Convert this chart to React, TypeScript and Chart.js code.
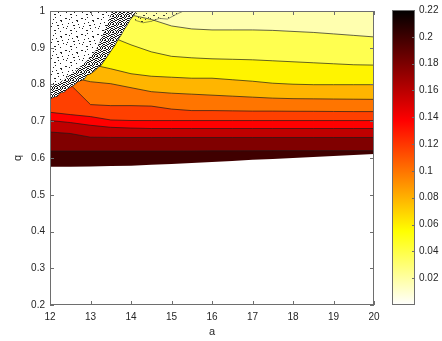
import React, { useEffect, useRef } from 'react';
import { Chart, registerables } from 'chart.js';

Chart.register(...registerables);

// ---- data ----
const aGrid = [12, 12.5, 13, 13.5, 14, 14.5, 15, 15.5, 16, 16.5, 17, 17.5, 18, 18.5, 19, 19.5, 20];

// lower boundary of the computed region (below it: no data)
const qEdge = [0.5759, 0.5759, 0.5772, 0.578, 0.5786, 0.5818, 0.584, 0.5867, 0.5894, 0.5921, 0.5949, 0.5976, 0.6003, 0.603, 0.6057, 0.6081, 0.6106];
// contour lines (q at each a of aGrid)
const q020 = [0.619, 0.619, 0.619, 0.619, 0.619, 0.619, 0.619, 0.6192, 0.6195, 0.6195, 0.6197, 0.62, 0.62, 0.62, 0.62, 0.62, 0.62];
const q018 = [0.6707, 0.6667, 0.6566, 0.656, 0.6558, 0.6558, 0.6558, 0.6558, 0.6558, 0.6558, 0.6558, 0.6558, 0.6558, 0.6558, 0.6558, 0.6558, 0.6558];
const q016 = [0.7019, 0.6965, 0.689, 0.6835, 0.6815, 0.6802, 0.6802, 0.6802, 0.6802, 0.6802, 0.6802, 0.6802, 0.6802, 0.6802, 0.6802, 0.6802, 0.6802];
const q014 = [0.7244, 0.7182, 0.7127, 0.7035, 0.702, 0.7019, 0.7019, 0.7019, 0.7019, 0.7019, 0.7019, 0.7019, 0.7019, 0.7019, 0.7019, 0.7019, 0.7019];
const q012 = [0.77, 0.8, 0.7453, 0.7425, 0.7425, 0.7412, 0.7331, 0.729, 0.729, 0.7283, 0.7276, 0.7276, 0.7272, 0.727, 0.7266, 0.7263, 0.7263];
const q010 = [0.78, 0.82, 0.8076, 0.8022, 0.7913, 0.7805, 0.7764, 0.7737, 0.771, 0.7683, 0.7656, 0.7629, 0.7615, 0.761, 0.7605, 0.76, 0.7596];
const q008 = [0.79, 0.83, 0.855, 0.8428, 0.8293, 0.8225, 0.8198, 0.8171, 0.8171, 0.813, 0.8089, 0.8035, 0.8008, 0.7995, 0.7995, 0.7995, 0.7995];
const q006 = [0.8, 0.84, 0.87, 0.93, 0.9079, 0.8889, 0.8767, 0.8726, 0.8699, 0.8686, 0.8672, 0.8645, 0.8618, 0.8591, 0.8564, 0.8537, 0.8528];
const q004 = [0.81, 0.85, 0.88, 0.95, 0.9892, 0.977, 0.9593, 0.9512, 0.9485, 0.9485, 0.9485, 0.9472, 0.9444, 0.9417, 0.9377, 0.9336, 0.9295];

// value whose colour fills the band above each line
const bandLevels = [0.2, 0.18, 0.16, 0.14, 0.12, 0.1, 0.08, 0.06, 0.04, 0.02];

// noisy (value < 0.02) region: lower-right edge
const noiseA = [12, 12.1, 12.17, 12.25, 12.35, 12.42, 12.49, 12.59, 12.67, 12.74, 12.84, 12.91, 12.99, 13.09, 13.19, 13.26, 13.36, 13.43, 13.53, 13.6, 13.68, 13.75, 13.83, 13.9, 13.98, 14.05, 14.12];
const noiseQ = [0.7615, 0.7669, 0.7683, 0.7778, 0.7805, 0.7886, 0.7927, 0.7995, 0.8076, 0.8103, 0.8157, 0.8266, 0.8293, 0.8374, 0.8482, 0.8537, 0.8699, 0.8808, 0.897, 0.9079, 0.9241, 0.935, 0.9512, 0.9621, 0.9783, 0.9864, 1.0];
// densely speckled strip along that edge: its upper edge
const denseA = [12, 12.3, 12.59, 12.89, 13.14, 13.28, 13.43, 13.53, 13.8, 14.12];
const denseQ = [0.794, 0.8103, 0.8347, 0.8618, 0.8943, 0.9295, 0.9675, 1.0, 1.0, 1.0];
// speckled strip along the top, right of the noisy region: its lower edge
const topSpeckA = [14.1, 14.3, 14.5, 14.7, 14.9, 15.1, 15.3];
const topSpeckQ = [0.975, 0.968, 0.972, 0.98, 0.978, 0.99, 1.0];

const xTicks = [12, 13, 14, 15, 16, 17, 18, 19, 20];
const yTicks = [0.2, 0.3, 0.4, 0.5, 0.6, 0.7, 0.8, 0.9, 1];
const cbTicks = [0.02, 0.04, 0.06, 0.08, 0.1, 0.12, 0.14, 0.16, 0.18, 0.2, 0.22];
const cbRange = [0, 0.22];

// ---- style helpers ----
const FONT = "'Liberation Sans', Arial, Helvetica, sans-serif";
const TEXT = '#262626';
const AXIS = '#6e6e6e';

function hotRev(v: number): string {
  const m = 64;
  let idx = Math.floor(((v - cbRange[0]) / (cbRange[1] - cbRange[0])) * m) + 1;
  idx = Math.max(1, Math.min(m, idx));
  const hi = m - idx + 1;
  const n = 24;
  const r = hi <= n ? hi / n : 1;
  const g = hi <= n ? 0 : hi <= 2 * n ? (hi - n) / n : 1;
  const b = hi <= 2 * n ? 0 : (hi - 2 * n) / (m - 2 * n);
  return `rgb(${Math.round(r * 255)},${Math.round(g * 255)},${Math.round(b * 255)})`;
}

function makePattern(ctx: CanvasRenderingContext2D, size: number, dots: number[][], bg: string | null, fg: string) {
  const c = document.createElement('canvas');
  c.width = size;
  c.height = size;
  const g = c.getContext('2d')!;
  if (bg) {
    g.fillStyle = bg;
    g.fillRect(0, 0, size, size);
  }
  g.fillStyle = fg;
  dots.forEach(([x, y]) => g.fillRect(x, y, 1, 1));
  return ctx.createPattern(c, 'repeat')!;
}

// speckle texture layouts (style only)
const SPARSE_DOTS = [
  [1, 2], [2, 2], [7, 1], [12, 4], [13, 4], [13, 5], [4, 7], [9, 9], [10, 9], [15, 11], [2, 12], [6, 14], [7, 14],
  [12, 15], [14, 8], [5, 3], [10, 12], [3, 10], [8, 6],
];
const DENSE_DOTS = [
  [0, 0], [1, 0], [4, 0], [6, 0], [2, 1], [3, 1], [5, 1], [0, 2], [1, 2], [4, 2], [7, 2], [2, 3], [5, 3], [6, 3],
  [0, 4], [3, 4], [4, 4], [7, 4], [1, 5], [2, 5], [6, 5], [0, 6], [3, 6], [5, 6], [7, 6], [1, 7], [4, 7], [6, 7],
];
const TOP_DOTS = [[1, 1], [2, 1], [6, 3], [3, 5], [4, 5], [8, 7], [0, 8], [5, 9]];

const pts = (xs: number[], ys: number[]) => xs.map((x, i) => ({ x, y: ys[i] }));

const boxPlugin = {
  id: 'boxTicks',
  afterDraw(chart: any) {
    const { ctx, chartArea } = chart;
    const { left, right, top, bottom } = chartArea;
    const x = chart.scales.x;
    const y = chart.scales.y;
    ctx.save();
    ctx.strokeStyle = AXIS;
    ctx.lineWidth = 1;
    ctx.strokeRect(Math.round(left) + 0.5, Math.round(top) + 0.5, Math.round(right - left) - 1, Math.round(bottom - top) - 1);
    ctx.beginPath();
    xTicks.forEach((v) => {
      const px = Math.round(x.getPixelForValue(v)) + 0.5;
      ctx.moveTo(px, bottom);
      ctx.lineTo(px, bottom - 4);
      ctx.moveTo(px, top);
      ctx.lineTo(px, top + 4);
    });
    yTicks.forEach((v) => {
      const py = Math.round(y.getPixelForValue(v)) + 0.5;
      ctx.moveTo(left, py);
      ctx.lineTo(left + 4, py);
      ctx.moveTo(right, py);
      ctx.lineTo(right - 4, py);
    });
    ctx.stroke();
    ctx.restore();
  },
};

const cbPlugin = {
  id: 'cbBox',
  afterDraw(chart: any) {
    const { ctx, chartArea } = chart;
    const { left, right, top, bottom } = chartArea;
    const y = chart.scales.y;
    ctx.save();
    ctx.strokeStyle = AXIS;
    ctx.lineWidth = 1;
    ctx.strokeRect(Math.round(left) + 0.5, Math.round(top) + 0.5, Math.round(right - left) - 1, Math.round(bottom - top) - 1);
    ctx.beginPath();
    cbTicks.forEach((v) => {
      const py = Math.round(y.getPixelForValue(v)) + 0.5;
      ctx.moveTo(right, py);
      ctx.lineTo(right - 3, py);
    });
    ctx.stroke();
    ctx.restore();
  },
};

export default function App() {
  const mainRef = useRef<HTMLCanvasElement>(null);
  const cbRef = useRef<HTMLCanvasElement>(null);

  useEffect(() => {
    const mainCtx = mainRef.current!.getContext('2d')!;
    const sparse = makePattern(mainCtx, 16, SPARSE_DOTS, '#ffffff', '#222222');
    const dense = makePattern(mainCtx, 8, DENSE_DOTS, '#ffffff', '#141414');
    const topSpeck = makePattern(mainCtx, 10, TOP_DOTS, null, 'rgba(30,30,30,0.85)');

    const lineSets = [qEdge, q020, q018, q016, q014, q012, q010, q008, q006, q004];
    const datasets: any[] = lineSets.map((arr, i) => ({
      data: pts(aGrid, arr),
      fill: 'end',
      backgroundColor: hotRev(bandLevels[i]),
      borderColor: i === 0 ? 'rgba(0,0,0,0)' : 'rgba(25,25,25,0.85)',
      borderWidth: i === 0 ? 0 : 0.8,
      pointRadius: 0,
      tension: 0,
      order: 40 - i,
    }));
    datasets.push({
      data: pts(topSpeckA, topSpeckQ),
      fill: 'end',
      backgroundColor: topSpeck,
      borderColor: 'rgba(30,30,30,0.6)',
      borderWidth: 0.8,
      pointRadius: 0,
      tension: 0,
      order: 6,
    });
    const noiseIndex = datasets.length;
    datasets.push({
      data: pts(noiseA, noiseQ),
      fill: 'end',
      backgroundColor: sparse,
      borderColor: '#1a1a1a',
      borderWidth: 1.2,
      pointRadius: 0,
      tension: 0,
      order: 5,
    });
    datasets.push({
      data: pts(denseA, denseQ),
      fill: { target: noiseIndex },
      backgroundColor: dense,
      borderWidth: 0,
      pointRadius: 0,
      tension: 0,
      order: 4,
    });

    const main = new Chart(mainRef.current!, {
      type: 'line',
      data: { datasets },
      plugins: [boxPlugin],
      options: {
        animation: false,
        responsive: false,
        devicePixelRatio: 1,
        layout: { padding: { left: 0, top: 10, right: 68, bottom: 0 } },
        plugins: { legend: { display: false }, tooltip: { enabled: false } },
        scales: {
          x: {
            type: 'linear',
            min: 12,
            max: 20,
            afterBuildTicks: (s: any) => {
              s.ticks = xTicks.map((v) => ({ value: v }));
            },
            afterFit: (s: any) => {
              s.height = 36;
            },
            grid: { display: false, drawTicks: false },
            border: { display: false },
            ticks: { padding: 6, color: TEXT, font: { family: FONT, size: 10 }, callback: (v: any) => String(v) },
            title: { display: true, text: 'a', color: TEXT, font: { family: FONT, size: 11 }, padding: { top: 0, bottom: 2 } },
          },
          y: {
            type: 'linear',
            min: 0.2,
            max: 1,
            afterBuildTicks: (s: any) => {
              s.ticks = yTicks.map((v) => ({ value: v }));
            },
            afterFit: (s: any) => {
              s.width = 50;
            },
            grid: { display: false, drawTicks: false },
            border: { display: false },
            ticks: { padding: 5, color: TEXT, font: { family: FONT, size: 10 }, callback: (v: any) => String(Number(Number(v).toFixed(2))) },
            title: { display: true, text: 'q', color: TEXT, font: { family: FONT, size: 11 }, padding: { top: 11, bottom: 0 } },
          },
        },
      } as any,
    });

    const cb = new Chart(cbRef.current!, {
      type: 'bar',
      data: {
        labels: ['c'],
        datasets: [
          {
            data: [[cbRange[0], cbRange[1]]] as any,
            backgroundColor: (c: any) => {
              const area = c.chart.chartArea;
              if (!area) return '#fff';
              const g = c.chart.ctx.createLinearGradient(0, area.bottom, 0, area.top);
              g.addColorStop(0, '#ffffff');
              g.addColorStop(0.25, '#ffff00');
              g.addColorStop(0.625, '#ff0000');
              g.addColorStop(1, '#000000');
              return g;
            },
            borderWidth: 0,
            barPercentage: 1,
            categoryPercentage: 1,
          },
        ],
      },
      plugins: [cbPlugin],
      options: {
        animation: false,
        responsive: false,
        devicePixelRatio: 1,
        layout: { padding: { left: 392, top: 10, right: 0, bottom: 36 } },
        plugins: { legend: { display: false }, tooltip: { enabled: false } },
        scales: {
          x: { display: false },
          y: {
            position: 'right',
            min: cbRange[0],
            max: cbRange[1],
            afterBuildTicks: (s: any) => {
              s.ticks = cbTicks.map((v) => ({ value: v }));
            },
            afterFit: (s: any) => {
              s.width = 27;
            },
            grid: { display: false, drawTicks: false },
            border: { display: false },
            ticks: { padding: 4, color: TEXT, font: { family: FONT, size: 10 }, callback: (v: any) => String(Number(Number(v).toFixed(2))) },
          },
        },
      } as any,
    });

    return () => {
      main.destroy();
      cb.destroy();
    };
  }, []);

  return (
    <div style={{ position: 'absolute', left: 0, top: 0, width: 442, height: 341 }}>
      <canvas ref={mainRef} width={442} height={341} style={{ position: 'absolute', left: 0, top: 0 }} />
      <canvas ref={cbRef} width={442} height={341} style={{ position: 'absolute', left: 0, top: 0, pointerEvents: 'none' }} />
    </div>
  );
}
